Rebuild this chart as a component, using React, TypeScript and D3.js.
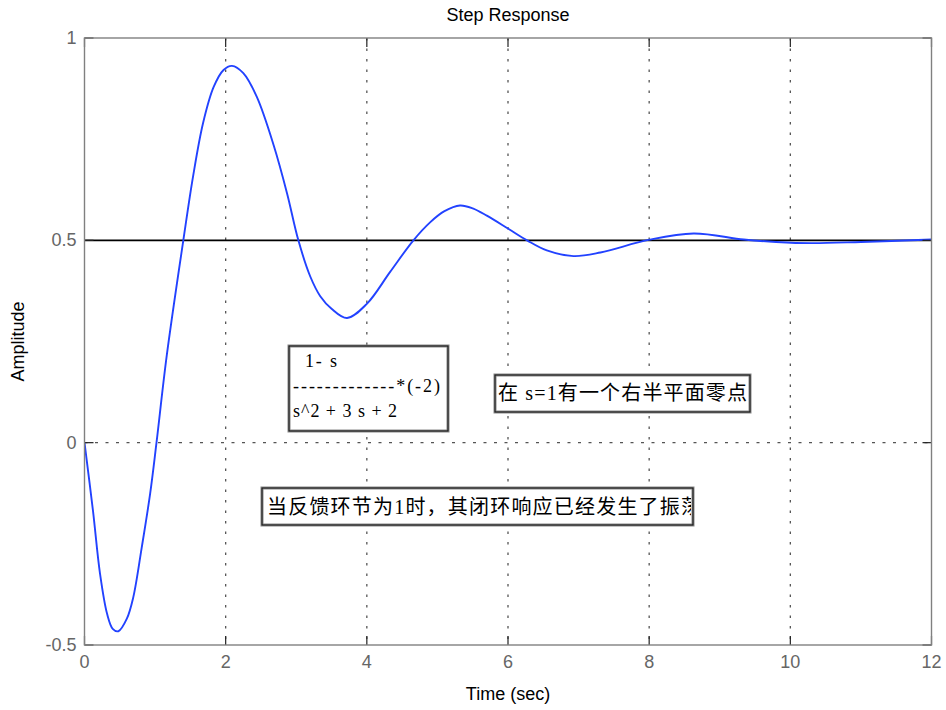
import * as d3 from 'd3';

// step response
const timeSec = [
  0, 0.12, 0.22, 0.32, 0.4, 0.48, 0.6, 0.69, 0.81, 0.93, 1.02, 1.165, 1.4, 1.54, 1.68, 1.83,
  1.97, 2.09, 2.25, 2.44, 2.68, 2.87, 3.03, 3.2, 3.34, 3.5, 3.72, 4.0, 4.33, 4.66, 4.9, 5.1,
  5.32, 5.5, 5.7, 6.01, 6.27, 6.55, 6.93, 7.31, 7.99, 8.63, 9.34, 9.8, 10.3, 11.0, 12.0,
];
const amplitude = [
  0, -0.168, -0.324, -0.423, -0.46, -0.466, -0.435, -0.383, -0.26, -0.126, 0, 0.215, 0.5,
  0.66, 0.79, 0.879, 0.921, 0.931, 0.913, 0.855, 0.735, 0.616, 0.5, 0.41, 0.362, 0.331, 0.308,
  0.343, 0.422, 0.5, 0.545, 0.572, 0.586, 0.579, 0.561, 0.528, 0.5, 0.475, 0.461, 0.47, 0.501,
  0.517, 0.502, 0.496, 0.493, 0.496, 0.502,
];
const steadyState = 0.5;

const xTicks = [0, 2, 4, 6, 8, 10, 12];
const yTicks = [-0.5, 0, 0.5, 1];

const title = 'Step Response';
const xLabel = 'Time (sec)';
const yLabel = 'Amplitude';
const tfNum = '1- s';
const tfBar = '-------------*(-2)';
const tfDen = 's^2 + 3 s + 2';
const noteZero = '在 s=1有一个右半平面零点';
const noteFeedback = '当反馈环节为1时，其闭环响应已经发生了振荡';

const W = 946;
const H = 710;
const left = 84.5,
  right = 931.5,
  top = 38,
  bottom = 645;

const sans = "'Liberation Sans', Arial, sans-serif";
const serifCjk = "'Liberation Serif', 'Noto Sans CJK SC', serif";

export default function App() {
  const x = d3.scaleLinear().domain([0, 12]).range([left, right]);
  const y = d3.scaleLinear().domain([-0.5, 1]).range([bottom, top]);

  const pts: [number, number][] = timeSec.map((t, i) => [t, amplitude[i]]);
  const line = d3
    .line<[number, number]>()
    .x((d) => x(d[0]))
    .y((d) => y(d[1]))
    .curve(d3.curveCatmullRom.alpha(0.5));

  const tickLen = 9;

  return (
    <svg width={W} height={H} style={{ position: 'absolute', left: 0, top: 0, background: '#fff' }}>
      <defs>
        <clipPath id="plotClip">
          <rect x={left} y={top} width={right - left} height={bottom - top} />
        </clipPath>
        <clipPath id="noteClip">
          <rect x={262} y={488} width={429} height={37} />
        </clipPath>
      </defs>

      {/* grid */}
      {xTicks
        .filter((t) => t > 0 && t < 12)
        .map((t) => (
          <line
            key={'gx' + t}
            x1={x(t)}
            x2={x(t)}
            y1={top}
            y2={bottom}
            stroke="#555"
            strokeWidth={1.3}
            strokeDasharray="2.5,8"
          />
        ))}
      {yTicks
        .filter((v) => v > -0.5 && v < 1 && v !== steadyState)
        .map((v) => (
          <line
            key={'gy' + v}
            x1={left}
            x2={right}
            y1={y(v)}
            y2={y(v)}
            stroke="#555"
            strokeWidth={1.3}
            strokeDasharray="3,7.5"
          />
        ))}

      {/* steady state */}
      <line x1={left} x2={right} y1={y(steadyState)} y2={y(steadyState)} stroke="#000" strokeWidth={1.6} />

      {/* response */}
      <path d={line(pts) || ''} fill="none" stroke="#2242ff" strokeWidth={1.9} clipPath="url(#plotClip)" />

      {/* ticks */}
      {xTicks.map((t) => (
        <g key={'tx' + t}>
          <line x1={x(t)} x2={x(t)} y1={bottom} y2={bottom - tickLen} stroke="#222" strokeWidth={1.2} />
          <line x1={x(t)} x2={x(t)} y1={top} y2={top + tickLen} stroke="#222" strokeWidth={1.2} />
          <text
            x={x(t)}
            y={bottom + 23}
            textAnchor="middle"
            fontFamily={sans}
            fontSize={18}
            fill="#666"
          >
            {t}
          </text>
        </g>
      ))}
      {yTicks.map((v) => (
        <g key={'ty' + v}>
          <line x1={left} x2={left + tickLen} y1={y(v)} y2={y(v)} stroke="#222" strokeWidth={1.2} />
          <line x1={right} x2={right - tickLen} y1={y(v)} y2={y(v)} stroke="#222" strokeWidth={1.2} />
          <text
            x={left - 8}
            y={y(v) + 6}
            textAnchor="end"
            fontFamily={sans}
            fontSize={18}
            fill="#666"
          >
            {v}
          </text>
        </g>
      ))}

      {/* axes box */}
      <rect
        x={left}
        y={top}
        width={right - left}
        height={bottom - top}
        fill="none"
        stroke="#808080"
        strokeWidth={1.4}
      />

      {/* labels */}
      <text x={(left + right) / 2} y={21} textAnchor="middle" fontFamily={sans} fontSize={18} fill="#000">
        {title}
      </text>
      <text x={(left + right) / 2} y={700} textAnchor="middle" fontFamily={sans} fontSize={18} fill="#000">
        {xLabel}
      </text>
      <text
        transform={`translate(24, ${(top + bottom) / 2}) rotate(-90)`}
        textAnchor="middle"
        fontFamily={sans}
        fontSize={18}
        fill="#000"
      >
        {yLabel}
      </text>

      {/* transfer function note */}
      <rect x={289} y={346} width={159} height={85} fill="#fff" stroke="#888" strokeWidth={3} />
      <rect x={289} y={346} width={159} height={85} fill="none" stroke="#111" strokeWidth={1} />
      <text x={305} y={367} fontFamily={serifCjk} fontSize={18} textLength={32} fill="#000">
        {tfNum}
      </text>
      <text x={293} y={392} fontFamily={serifCjk} fontSize={18} textLength={147} fill="#000">
        {tfBar}
      </text>
      <text x={293} y={417} fontFamily={serifCjk} fontSize={18} textLength={104} fill="#000">
        {tfDen}
      </text>

      {/* right half plane zero note */}
      <rect x={495} y={375} width={255} height={37} fill="#fff" stroke="#888" strokeWidth={3} />
      <rect x={495} y={375} width={255} height={37} fill="none" stroke="#111" strokeWidth={1} />
      <text x={498} y={400} fontFamily={serifCjk} fontSize={20} textLength={249} fill="#000">
        {noteZero}
      </text>

      {/* feedback note (clipped like the original) */}
      <rect x={262} y={488} width={431} height={37} fill="#fff" stroke="#888" strokeWidth={3} />
      <rect x={262} y={488} width={431} height={37} fill="none" stroke="#111" strokeWidth={1} />
      <text
        x={267}
        y={514}
        fontFamily={serifCjk}
        fontSize={20}
        textLength={434}
        fill="#000"
        clipPath="url(#noteClip)"
      >
        {noteFeedback}
      </text>
    </svg>
  );
}
